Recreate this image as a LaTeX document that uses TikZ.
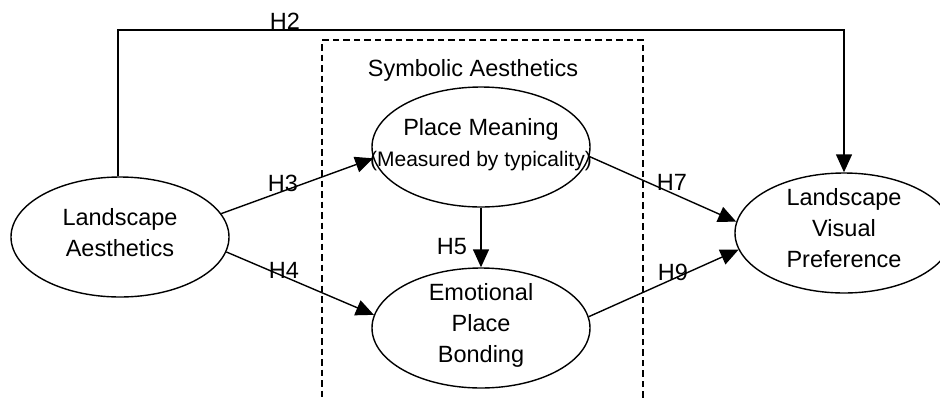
\documentclass[tikz,border=0pt]{standalone}
\usepackage{fontspec}
\setmainfont{Liberation Sans}
\usetikzlibrary{arrows.meta,shapes.geometric}

\tikzset{
  oval/.style={ellipse, draw, line width=1.4pt, minimum width=218pt,
    minimum height=120pt, inner sep=0pt},
  ovaltext/.style={align=center, inner sep=0pt,
    font=\fontsize{23.5}{31}\selectfont,
    execute at begin node=\strut, execute at end node=\strut},
  hyp/.style={anchor=base, inner sep=0pt, font=\fontsize{23.5}{28}\selectfont},
  link/.style={line width=1.4pt, -{Triangle[length=18pt,width=16pt]}},
  groupbox/.style={draw, line width=1.4pt, dash pattern=on 6.5pt off 4pt,
    inner sep=0pt}
}

\begin{document}
\begin{tikzpicture}[x=1pt, y=-1pt]
  \useasboundingbox (0,0) rectangle (940,400);

  % dashed group box for the symbolic aesthetics constructs
  \node[groupbox, minimum width=321pt, minimum height=362pt] (SA) at (482.5,221) {};
  \node[hyp] (SAt) at (473,76.5) {Symbolic Aesthetics};

  % constructs
  \node[oval] (LA)  at (120,237) {};
  \node[ovaltext] (LAt) at (LA) {Landscape\\Aesthetics};

  \node[oval] (PM)  at (481,147) {};
  \node[ovaltext] (PMt) at (PM) {Place Meaning\\{\fontsize{21}{31}\selectfont(Measured by typicality)}};

  \node[oval] (EPB) at (481,328) {};
  \node[ovaltext] (EPBt) at (EPB) {Emotional\\Place\\Bonding};

  \node[oval] (LVP) at (844,233) {};
  \node[ovaltext] (LVPt) at (LVP) {Landscape\\Visual\\Preference};

  % hypothesised paths
  \coordinate (h2a) at (118,30);
  \coordinate (h2b) at (844,30);
  \draw[link] (LA.north -| h2a) -- (h2a) -- (h2b) -- (LVP.north);
  \draw[link] (LA.13)  -- (PM.186);
  \draw[link] (LA.-8)  -- (EPB.173);
  \draw[link] (PM.south) -- (EPB.north);
  \draw[link] (PM.-5)  -- (LVP.174);
  \draw[link] (EPB.6)  -- (LVP.189);

  % path labels
  \node[hyp] (H2) at (285,29)  {H2};
  \node[hyp] (H3) at (283,191) {H3};
  \node[hyp] (H4) at (284,278) {H4};
  \node[hyp] (H5) at (452,254) {H5};
  \node[hyp] (H7) at (672,190) {H7};
  \node[hyp] (H9) at (673,280) {H9};
\end{tikzpicture}
\end{document}
